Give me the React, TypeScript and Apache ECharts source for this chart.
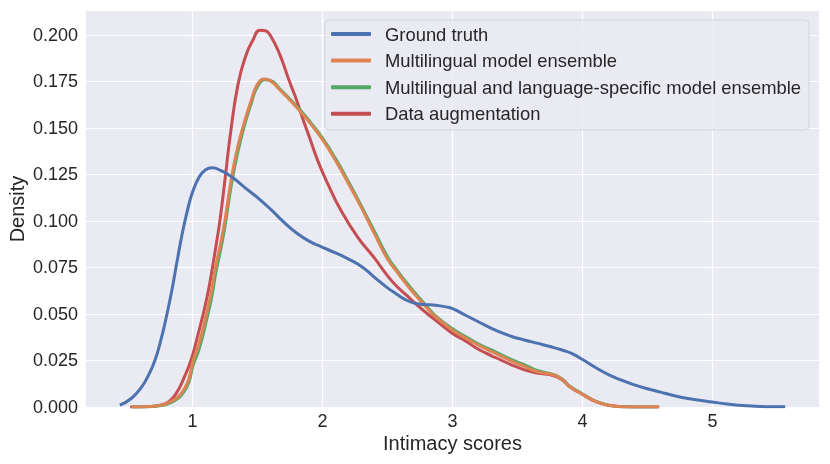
import React, { useEffect, useRef } from "react";
import * as echarts from "echarts";

const seriesNames = [
  "Ground truth",
  "Multilingual model ensemble",
  "Multilingual and language-specific model ensemble",
  "Data augmentation",
];
const seriesColors = ["#4C72B0", "#DD8452", "#55A868", "#C44E52"];

const xTicks = [1, 2, 3, 4, 5];
const yTicks = [0, 0.025, 0.05, 0.075, 0.1, 0.125, 0.15, 0.175, 0.2];

const gtX = [0.44, 0.53, 0.61, 0.66, 0.71, 0.76, 0.8, 0.84, 0.88, 0.92, 0.96, 1.0, 1.05, 1.1, 1.15, 1.22, 1.3, 1.4, 1.5, 1.6, 1.7, 1.8, 1.9, 2.0, 2.1, 2.2, 2.3, 2.4, 2.5, 2.563, 2.63, 2.716, 2.8, 2.87, 2.95, 3.0, 3.1, 3.176, 3.25, 3.33, 3.45, 3.56, 3.65, 3.75, 3.85, 3.92, 4.0, 4.1, 4.2, 4.3, 4.4, 4.5, 4.6, 4.7, 4.8, 4.9, 5.0, 5.1, 5.2, 5.3, 5.4, 5.56];
const gtY = [0.001, 0.0047, 0.011, 0.017, 0.025, 0.037, 0.049, 0.0625, 0.078, 0.093, 0.1055, 0.1155, 0.1235, 0.1275, 0.1285, 0.127, 0.1237, 0.118, 0.1125, 0.1063, 0.0995, 0.0935, 0.089, 0.0858, 0.0828, 0.0795, 0.0755, 0.0697, 0.064, 0.061, 0.058, 0.0556, 0.055, 0.0547, 0.0538, 0.0529, 0.0493, 0.0466, 0.044, 0.0413, 0.038, 0.0359, 0.0343, 0.0325, 0.0305, 0.0287, 0.0255, 0.0212, 0.0174, 0.0144, 0.0119, 0.0098, 0.008, 0.0062, 0.0047, 0.0036, 0.0027, 0.0017, 0.0009, 0.0005, 0.0002, 0.0001];

const mmX = [0.53, 0.65, 0.76, 0.82, 0.89, 0.93, 0.97, 1.005, 1.05, 1.107, 1.15, 1.176, 1.21, 1.248, 1.3, 1.35, 1.4, 1.45, 1.5, 1.55, 1.6, 1.67, 1.75, 1.835, 1.91, 2.0, 2.1, 2.2, 2.3, 2.4, 2.5, 2.563, 2.65, 2.716, 2.8, 2.87, 3.0, 3.1, 3.176, 3.25, 3.33, 3.45, 3.56, 3.65, 3.78, 3.85, 3.9, 4.0, 4.1, 4.2, 4.3, 4.45, 4.59];
const mmY = [0, 0.0002, 0.001, 0.0025, 0.0055, 0.009, 0.0148, 0.025, 0.034, 0.05, 0.064, 0.075, 0.086, 0.1, 0.1235, 0.1405, 0.1535, 0.1645, 0.1735, 0.1762, 0.1752, 0.1705, 0.1648, 0.1583, 0.152, 0.1437, 0.1325, 0.12, 0.107, 0.093, 0.0795, 0.0735, 0.0655, 0.06, 0.0535, 0.0484, 0.0413, 0.0371, 0.0341, 0.0315, 0.0288, 0.0248, 0.0216, 0.019, 0.0172, 0.0145, 0.011, 0.0068, 0.003, 0.0009, 0.0002, 0, 0];

const mlX = [0.54, 0.65, 0.76, 0.82, 0.89, 0.93, 0.97, 1.005, 1.05, 1.107, 1.15, 1.176, 1.21, 1.248, 1.3, 1.35, 1.4, 1.45, 1.5, 1.56, 1.6, 1.67, 1.75, 1.835, 1.91, 2.0, 2.1, 2.2, 2.3, 2.4, 2.5, 2.563, 2.65, 2.716, 2.8, 2.87, 3.0, 3.1, 3.176, 3.25, 3.33, 3.45, 3.56, 3.65, 3.78, 3.85, 3.9, 4.0, 4.1, 4.2, 4.3, 4.45, 4.58];
const mlY = [0, 0.0001, 0.0008, 0.002, 0.0047, 0.0078, 0.013, 0.0225, 0.031, 0.0465, 0.06, 0.071, 0.0825, 0.0965, 0.12, 0.1375, 0.1515, 0.1628, 0.1722, 0.1758, 0.1755, 0.171, 0.1653, 0.159, 0.1527, 0.1445, 0.1335, 0.121, 0.1078, 0.0943, 0.0808, 0.0745, 0.0665, 0.061, 0.0543, 0.049, 0.042, 0.0378, 0.0348, 0.0322, 0.0296, 0.0256, 0.0225, 0.0196, 0.0174, 0.0147, 0.0113, 0.007, 0.0032, 0.001, 0.0002, 0, 0];

const daX = [0.52, 0.65, 0.75, 0.82, 0.88, 0.93, 0.987, 1.035, 1.082, 1.12, 1.153, 1.18, 1.21, 1.25, 1.29, 1.35, 1.414, 1.46, 1.52, 1.56, 1.6, 1.67, 1.745, 1.8, 1.85, 1.9, 1.963, 2.04, 2.142, 2.27, 2.4, 2.5, 2.563, 2.65, 2.716, 2.8, 2.87, 3.0, 3.1, 3.176, 3.25, 3.33, 3.45, 3.56, 3.65, 3.78, 3.85, 3.9, 4.0, 4.1, 4.2, 4.3, 4.45, 4.59];
const daY = [0, 0.0002, 0.001, 0.003, 0.008, 0.015, 0.025, 0.037, 0.05, 0.062, 0.075, 0.0865, 0.1, 0.1225, 0.146, 0.1735, 0.1896, 0.1965, 0.2025, 0.2022, 0.1995, 0.1896, 0.175, 0.165, 0.1545, 0.1448, 0.1324, 0.12, 0.1056, 0.0913, 0.08, 0.0705, 0.0654, 0.0598, 0.0556, 0.0505, 0.0466, 0.0395, 0.0355, 0.032, 0.0292, 0.0266, 0.0228, 0.0198, 0.0182, 0.0168, 0.0142, 0.011, 0.0068, 0.003, 0.0009, 0.0002, 0, 0];

const xMin = 0.18;
const xMax = 5.82;
const yMin = 0;
const yMax = 0.2128;

const zip = (xs: number[], ys: number[]) => xs.map((x, i) => [x, ys[i]]);

export default function App() {
  const ref = useRef<HTMLDivElement>(null);
  useEffect(() => {
    if (!ref.current) return;
    const chart = echarts.init(ref.current, undefined, { renderer: "svg" });
    const datasets = [zip(gtX, gtY), zip(mmX, mmY), zip(mlX, mlY), zip(daX, daY)];
    const order = [3, 2, 1, 0];
    const font = "Liberation Sans, Arial, sans-serif";
    chart.setOption({
      animation: false,
      textStyle: { fontFamily: font },
      grid: {
        left: 86,
        right: 11,
        top: 11,
        bottom: 57,
        show: true,
        backgroundColor: "#EAEAF2",
        borderWidth: 0,
        containLabel: false,
        outerBoundsMode: "none",
      },
      legend: {
        orient: "vertical",
        left: 325,
        top: 20,
        data: seriesNames.map((n) => ({ name: n, icon: "roundRect" })),
        itemWidth: 40,
        itemHeight: 4,
        itemGap: 8.6,
        padding: [5, 8, 7, 6],
        backgroundColor: "rgba(234,234,242,0.8)",
        borderColor: "#d4d4dc",
        borderWidth: 1,
        borderRadius: 4,
        textStyle: { fontSize: 18.4, color: "#262626", fontFamily: font, padding: [0, 0, 0, 9] },
      },
      xAxis: {
        type: "value",
        min: xMin,
        max: xMax,
        name: "Intimacy scores",
        nameLocation: "middle",
        nameGap: 26,
        nameMoveOverlap: false,
        nameTextStyle: { fontSize: 20, color: "#262626", fontFamily: font },
        axisLine: { show: false },
        axisTick: { show: false, customValues: xTicks },
        axisLabel: {
          customValues: xTicks,
          fontSize: 18,
          color: "#262626",
          margin: 5,
          fontFamily: font,
        },
        splitLine: { show: true, lineStyle: { color: "#ffffff", width: 1.2 } },
      },
      yAxis: {
        type: "value",
        min: yMin,
        max: yMax,
        name: "Density",
        nameLocation: "middle",
        nameGap: 59,
        nameMoveOverlap: false,
        nameTextStyle: { fontSize: 20, color: "#262626", fontFamily: font },
        axisLine: { show: false },
        axisTick: { show: false, customValues: yTicks },
        axisLabel: {
          customValues: yTicks,
          fontSize: 18,
          color: "#262626",
          margin: 8,
          fontFamily: font,
          formatter: (v: number) => v.toFixed(3),
        },
        splitLine: { show: true, lineStyle: { color: "#ffffff", width: 1.2 } },
      },
      series: order.map((i) => ({
        name: seriesNames[i],
        type: "line",
        data: datasets[i],
        showSymbol: false,
        smooth: 0.5,
        color: seriesColors[i],
        lineStyle: { width: 3, color: seriesColors[i] },
      })),
    });
    return () => chart.dispose();
  }, []);
  return (
    <div
      ref={ref}
      style={{ position: "fixed", left: 0, top: 0, width: 830, height: 464 }}
    />
  );
}
